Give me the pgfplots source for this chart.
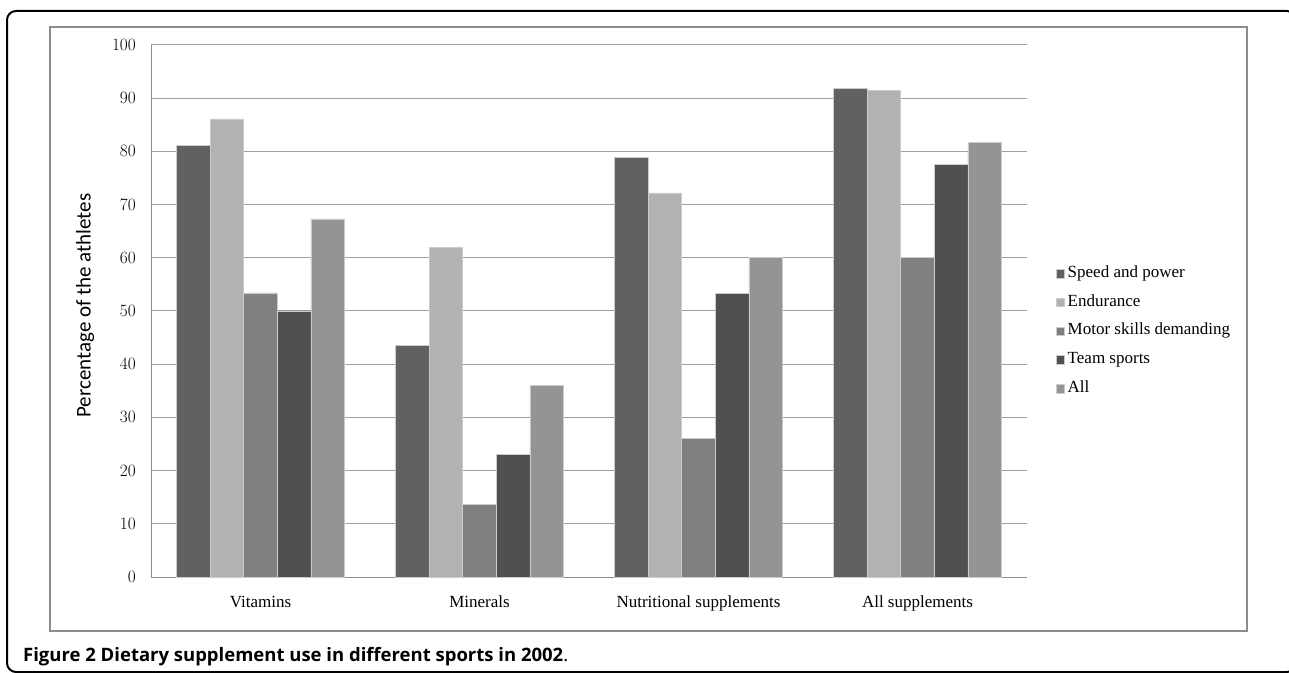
\documentclass[border=0pt]{standalone}
\usepackage{fontspec}
\setmainfont{Liberation Serif}
\newfontfamily\capfont{Open Sans}
\newfontfamily\labfont{Carlito}
\usepackage{pgfplots}
\pgfplotsset{compat=1.18}

\definecolor{cSpeed}{HTML}{616161}
\definecolor{cEnd}{HTML}{B2B2B2}
\definecolor{cMotor}{HTML}{808080}
\definecolor{cTeam}{HTML}{505050}
\definecolor{cAll}{HTML}{949494}
\definecolor{cEdge}{HTML}{CCCCCC}
\definecolor{cGrid}{HTML}{A0A0A0}
\definecolor{cBox}{HTML}{8C8C8C}

\begin{document}
\begin{tikzpicture}
\useasboundingbox (0pt,0pt) rectangle (1289pt,672pt);
% outer rounded frame and inner chart box
\draw[line width=2pt, rounded corners=9pt] (7pt,0pt) rectangle (1296pt,661pt);
\draw[line width=1.5pt, cBox] (50pt,41pt) rectangle (1247pt,645pt);

\begin{axis}[
    at={(151pt,95pt)}, anchor=south west,
    scale only axis,
    width=876pt, height=532pt,
    ybar=0pt,
    bar width=33.6pt,
    xmin=-0.5, xmax=3.5,
    ymin=0, ymax=100,
    xtick={0,1,2,3},
    xticklabels={Vitamins,Minerals,Nutritional supplements,All supplements},
    ytick distance=10,
    ymajorgrids,
    grid style={cGrid, line width=1pt},
    axis x line*=bottom, axis y line*=left,
    axis line style={cBox, line width=1pt, -},
    major tick length=0pt,
    tick style={draw=none},
    ticklabel style={font=\fontsize{17pt}{20pt}\selectfont, inner sep=0pt},
    yticklabel style={xshift=-15pt},
    xticklabel style={yshift=-19pt},
    every axis y label/.style={at={(axis description cs:-0.0753,0.51)}, rotate=90, anchor=center},
    ylabel={\labfont\fontsize{21pt}{24pt}\selectfont Percentage of the athletes},
    legend cell align=left,
    legend image code/.code={\fill[#1] (0pt,-4.25pt) rectangle (8.5pt,4.25pt);},
    legend style={at={(1.029,0.462)}, anchor=west, draw=none, fill=none,
        font=\fontsize{17pt}{20pt}\selectfont,
        row sep=15.7pt, column sep=3pt,
        nodes={inner sep=0pt, text height=10pt, text depth=3pt, anchor=west}},
]
\addplot[fill=cSpeed, draw=cEdge, line width=0.6pt] coordinates {(0,81.2) (1,43.5) (2,78.8) (3,91.9)};
\addplot[fill=cEnd, draw=cEdge, line width=0.6pt] coordinates {(0,86.1) (1,62.0) (2,72.2) (3,91.5)};
\addplot[fill=cMotor, draw=cEdge, line width=0.6pt] coordinates {(0,53.4) (1,13.6) (2,26.1) (3,60.1)};
\addplot[fill=cTeam, draw=cEdge, line width=0.6pt] coordinates {(0,50.0) (1,23.0) (2,53.3) (3,77.6)};
\addplot[fill=cAll, draw=cEdge, line width=0.6pt] coordinates {(0,67.3) (1,36.0) (2,60.0) (3,81.7)};
\legend{Speed and power,Endurance,Motor skills demanding,Team sports,All}
\end{axis}

\node[anchor=base west, inner sep=0pt, font=\capfont\fontsize{18.5pt}{22pt}\selectfont]
    at (23pt,11pt) {\textbf{Figure 2 Dietary supplement use in different sports in 2002}.};
\end{tikzpicture}
\end{document}
